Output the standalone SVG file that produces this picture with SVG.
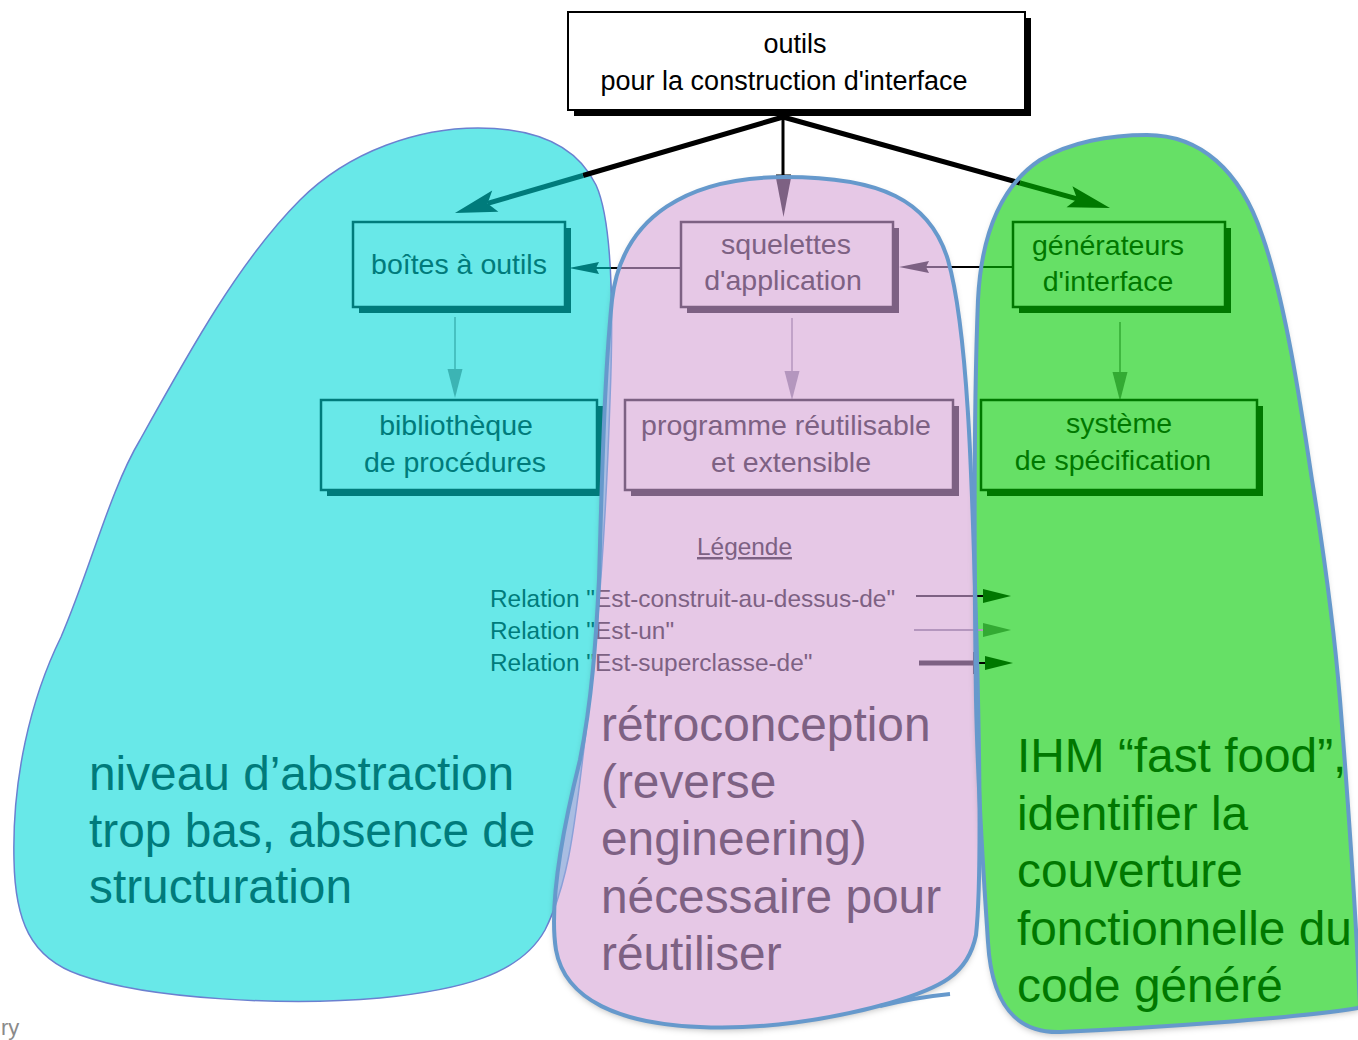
<svg xmlns="http://www.w3.org/2000/svg" width="1358" height="1040" viewBox="0 0 1358 1040">
<style>
text{font-family:"Liberation Sans",Arial,Helvetica,sans-serif}
.bx{font-size:28.5px;text-anchor:middle}
.big{font-size:47.8px}
.leg{font-size:24.4px}
.teal{fill:#007b7b}
.pur{fill:#7d6183}
.grn{fill:#007800}
.sT{fill:#007b7b}
.sP{fill:#7d6183}
.sG{fill:#007800}
.rT{fill:#68e8e8;stroke:#007b7b;stroke-width:2.5}
.rP{fill:#e6c8e6;stroke:#7d6183;stroke-width:2.5}
.rG{fill:#66e066;stroke:#007800;stroke-width:2.5}
.blobline{fill:none;stroke:#6699cc;stroke-width:4}
</style>
<defs>
<path id="pCyan" d="M 478,128 C 540,128 578,148 596,185 C 612,220 614,300 610,400 C 606,520 598,640 585,740 C 575,820 570,880 545,930 C 520,975 460,990 380,998 C 290,1006 150,1000 80,975 C 30,958 15,920 14,860 C 12,780 30,700 61,637 C 90,570 110,490 140,440 C 190,350 240,260 300,200 C 350,150 420,128 478,128 Z"/>
<path id="pPink" d="M 785,177 C 880,177 930,200 948,260 C 968,330 972,480 976,620 C 980,760 982,880 976,935 C 968,975 940,988 890,1003 C 830,1020 760,1030 700,1027 C 620,1024 565,1000 556,950 C 548,900 565,820 580,760 C 592,700 596,640 599,580 C 602,480 604,380 612,300 C 622,215 690,177 785,177 Z"/>
<path id="pGreen" d="M 1147,135 C 1200,135 1240,170 1262,235 C 1285,300 1300,400 1312,480 C 1325,560 1335,640 1340,700 C 1348,800 1355,900 1360,1006 L 1358,1008 C 1300,1018 1150,1028 1060,1032 C 1020,1033 992,1010 988,942 C 984,880 978,800 976,700 C 974,550 974,400 978,300 C 982,220 1010,180 1040,160 C 1070,142 1110,135 1147,135 Z"/>
<clipPath id="clipPink"><use href="#pPink"/></clipPath>
<filter id="shadow" x="-10%" y="-10%" width="120%" height="120%"><feDropShadow dx="0" dy="3" stdDeviation="3" flood-color="#000" flood-opacity="0.25"/></filter>
<marker id="mBigTeal" viewBox="-10 -12 46 24" refX="0" refY="0" markerWidth="46" markerHeight="24" markerUnits="userSpaceOnUse" orient="auto"><path d="M-8,-11 L34,0 L-8,11 L0,0 Z" fill="#007b7b"/></marker>
<marker id="mBigGreen" viewBox="-10 -12 46 24" refX="0" refY="0" markerWidth="46" markerHeight="24" markerUnits="userSpaceOnUse" orient="auto"><path d="M-8,-11 L34,0 L-8,11 L0,0 Z" fill="#007800"/></marker>
<marker id="mSmTeal" viewBox="-5 -7 33 14" refX="0" refY="0" markerWidth="33" markerHeight="14" markerUnits="userSpaceOnUse" orient="auto"><path d="M-3,-6 L27,0 L-3,6 L0,0 Z" fill="#007b7b"/></marker>
<marker id="mSmPur" viewBox="-5 -7 33 14" refX="0" refY="0" markerWidth="33" markerHeight="14" markerUnits="userSpaceOnUse" orient="auto"><path d="M-3,-6 L27,0 L-3,6 L0,0 Z" fill="#7d6183"/></marker>
<marker id="mUnTeal" viewBox="0 -8 30 16" refX="0" refY="0" markerWidth="30" markerHeight="16" markerUnits="userSpaceOnUse" orient="auto"><path d="M0,-7.5 L29,0 L0,7.5 Z" fill="#3cb4b4"/></marker>
<marker id="mUnPur" viewBox="0 -8 30 16" refX="0" refY="0" markerWidth="30" markerHeight="16" markerUnits="userSpaceOnUse" orient="auto"><path d="M0,-7.5 L29,0 L0,7.5 Z" fill="#b496be"/></marker>
<marker id="mUnGreen" viewBox="0 -8 30 16" refX="0" refY="0" markerWidth="30" markerHeight="16" markerUnits="userSpaceOnUse" orient="auto"><path d="M0,-7.5 L29,0 L0,7.5 Z" fill="#33aa33"/></marker>
<marker id="mLegDark" viewBox="0 -8 30 16" refX="0" refY="0" markerWidth="30" markerHeight="16" markerUnits="userSpaceOnUse" orient="auto"><path d="M0,-7 L28,0 L0,7 Z" fill="#007800"/></marker>
<marker id="mLegLight" viewBox="0 -8 30 16" refX="0" refY="0" markerWidth="30" markerHeight="16" markerUnits="userSpaceOnUse" orient="auto"><path d="M0,-7 L28,0 L0,7 Z" fill="#33aa33"/></marker>
</defs>

<rect x="0" y="0" width="1358" height="1040" fill="#ffffff"/>

<g id="blob-fills">
<use href="#pCyan" fill="#68e8e8" stroke="#6b80d0" stroke-width="1.5"/>
<use href="#pPink" fill="#e6c8e6" filter="url(#shadow)"/>
<g clip-path="url(#clipPink)"><use href="#pCyan" fill="#a9bde2" stroke="#8aa0d8" stroke-width="1.5"/></g>
<use href="#pGreen" fill="#66e066" filter="url(#shadow)"/>
</g>

<g id="connectors">
<line x1="783" y1="117" x2="583" y2="175.5" stroke="#000" stroke-width="5"/>
<line x1="583" y1="175.5" x2="487.6" y2="203.4" stroke="#007b7b" stroke-width="5" marker-end="url(#mBigTeal)"/>
<line x1="783" y1="117" x2="1020" y2="183" stroke="#000" stroke-width="5"/>
<line x1="1020" y1="183" x2="1077.2" y2="198.9" stroke="#007800" stroke-width="5" marker-end="url(#mBigGreen)"/>
<line x1="783" y1="115" x2="783" y2="176" stroke="#000" stroke-width="3"/>
<line x1="776" y1="176" x2="791" y2="176" stroke="#000" stroke-width="3"/>
<path d="M776,178 L791,178 L783.5,217 Z" class="sP"/>
<line x1="682" y1="268" x2="618" y2="268" stroke="#7d6183" stroke-width="2"/>
<line x1="618" y1="268" x2="611" y2="268" stroke="#000" stroke-width="2"/>
<line x1="611" y1="268" x2="596" y2="268" stroke="#007b7b" stroke-width="2" marker-end="url(#mSmTeal)"/>
<line x1="1013" y1="267" x2="980" y2="267" stroke="#007800" stroke-width="2"/>
<line x1="980" y1="267" x2="950" y2="267" stroke="#000" stroke-width="2"/>
<line x1="950" y1="267" x2="926" y2="267" stroke="#7d6183" stroke-width="2" marker-end="url(#mSmPur)"/>
<line x1="455" y1="317" x2="455" y2="369" stroke="#3cb4b4" stroke-width="1.5" marker-end="url(#mUnTeal)"/>
<line x1="792" y1="318" x2="792" y2="371" stroke="#b496be" stroke-width="1.5" marker-end="url(#mUnPur)"/>
<line x1="1120" y1="322" x2="1120" y2="372" stroke="#33aa33" stroke-width="1.5" marker-end="url(#mUnGreen)"/>
</g>

<g id="node-outils">
<rect x="574" y="18" width="457" height="98" fill="#000"/>
<rect x="568" y="12" width="457" height="98" fill="#fff" stroke="#000" stroke-width="2"/>
<text x="795" y="53" class="bx" style="font-size:27px" fill="#000">outils</text>
<text x="784" y="90" class="bx" style="font-size:27px" fill="#000">pour la construction d'interface</text>
</g>

<g id="node-boites">
<rect x="359" y="228" width="212" height="85" class="sT"/>
<rect x="353" y="222" width="212" height="85" class="rT"/>
<text x="459" y="274" class="bx teal">boîtes à outils</text>
</g>
<g id="node-squelettes">
<rect x="687" y="228" width="212" height="85" class="sP"/>
<rect x="681" y="222" width="212" height="85" class="rP"/>
<text x="786" y="254" class="bx pur">squelettes</text>
<text x="783" y="290" class="bx pur">d'application</text>
</g>
<g id="node-generateurs">
<rect x="1019" y="228" width="212" height="85" class="sG"/>
<rect x="1013" y="222" width="212" height="85" class="rG"/>
<text x="1108" y="255" class="bx grn">générateurs</text>
<text x="1108" y="291" class="bx grn">d'interface</text>
</g>
<g id="node-bibliotheque">
<rect x="327" y="406" width="276" height="90" class="sT"/>
<rect x="321" y="400" width="276" height="90" class="rT"/>
<text x="456" y="435" class="bx teal">bibliothèque</text>
<text x="455" y="472" class="bx teal">de procédures</text>
</g>
<g id="node-programme">
<rect x="631" y="406" width="328" height="90" class="sP"/>
<rect x="625" y="400" width="328" height="90" class="rP"/>
<text x="786" y="435" class="bx pur">programme réutilisable</text>
<text x="791" y="472" class="bx pur">et extensible</text>
</g>
<g id="node-systeme">
<rect x="987" y="406" width="276" height="90" class="sG"/>
<rect x="981" y="400" width="276" height="90" class="rG"/>
<text x="1119" y="433" class="bx grn">système</text>
<text x="1113" y="470" class="bx grn">de spécification</text>
</g>

<g id="legend">
<text x="697" y="555" class="leg pur" style="text-decoration:underline">Légende</text>
<text x="490" y="607" class="leg"><tspan class="teal">Relation "</tspan><tspan class="pur">Est-construit-au-dessus-de"</tspan></text>
<text x="490" y="639" class="leg"><tspan class="teal">Relation "</tspan><tspan class="pur">Est-un"</tspan></text>
<text x="490" y="671" class="leg"><tspan class="teal">Relation "</tspan><tspan class="pur">Est-superclasse-de"</tspan></text>
<line x1="916" y1="596" x2="976" y2="596" stroke="#7d6183" stroke-width="2"/>
<line x1="976" y1="596" x2="983" y2="596" stroke="#000" stroke-width="2" marker-end="url(#mLegDark)"/>
<line x1="914" y1="630" x2="983" y2="630" stroke="#b496be" stroke-width="2" marker-end="url(#mLegLight)"/>
<line x1="919" y1="663" x2="975" y2="663" stroke="#7d6183" stroke-width="5"/>
<rect x="973" y="652" width="5" height="22" class="sP"/>
<line x1="978" y1="663" x2="985" y2="663" stroke="#000" stroke-width="2" marker-end="url(#mLegDark)"/>
</g>

<g id="notes">
<text class="big teal"><tspan x="89" y="790">niveau d’abstraction</tspan><tspan x="89" y="847">trop bas, absence de</tspan><tspan x="89" y="903">structuration</tspan></text>
<text class="big pur"><tspan x="601" y="741">rétroconception</tspan><tspan x="601" y="798">(reverse</tspan><tspan x="601" y="855">engineering)</tspan><tspan x="601" y="913">nécessaire pour</tspan><tspan x="601" y="970">réutiliser</tspan></text>
<text class="big grn"><tspan x="1017" y="772">IHM “fast food”,</tspan><tspan x="1017" y="830">identifier la</tspan><tspan x="1017" y="887">couverture</tspan><tspan x="1017" y="945">fonctionnelle du</tspan><tspan x="1017" y="1002">code généré</tspan></text>
</g>

<g id="blob-outlines">
<use href="#pPink" class="blobline"/>
<path d="M 880,1006 C 905,1000 930,996 950,994" class="blobline"/>
<use href="#pGreen" class="blobline"/>
</g>

<text x="1" y="1035" font-size="22" fill="#8a8a8a">ry</text>
</svg>
